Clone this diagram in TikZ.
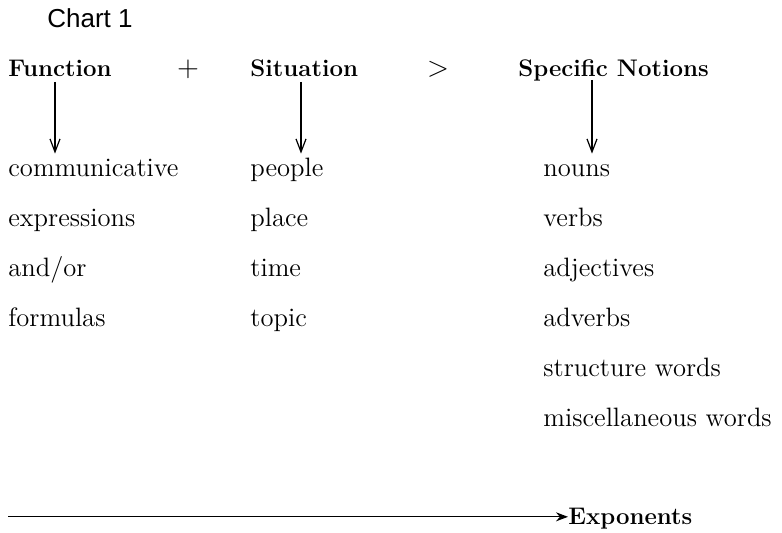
\documentclass[tikz,border=0pt]{standalone}
\usepackage{fontspec}
\newfontfamily\chartfont{Liberation Sans}
\usetikzlibrary{arrows.meta,positioning}

\begin{document}
\begin{tikzpicture}[x=0.5pt,y=-0.5pt,
    every node/.style={inner sep=0pt},
    head/.style={anchor=base west,font=\fontsize{12}{14}\selectfont\bfseries},
    item/.style={anchor=base west,text height=8pt,font=\fontsize{13.3}{15}\selectfont},
    arr/.style={-{Straight Barb[length=6.5pt,width=5pt]},line width=0.6pt,shorten >=3.5pt}]
  \useasboundingbox (0,0) rectangle (782,533);
  \node[anchor=base west,font=\chartfont\fontsize{13}{15}\selectfont] (chart) at (47,28) {Chart 1};

  % heads of the three columns
  \node[head] (fn) at (8,77) {Function};
  \node[anchor=base,font=\fontsize{13.3}{15}\selectfont] (plus) at (188,77) {$+$};
  \node[head] (sit) at (250,77) {Situation};
  \node[anchor=base,font=\fontsize{13.3}{15}\selectfont] (gt) at (438,77) {$>$};
  \node[head] (spec) at (518,77) {Specific Notions};

  % column entries
  \foreach \t [count=\i] in {communicative,expressions,and/or,formulas}
    \node[item] (c\i) at (8,{127+50*\i}) {\t};
  \foreach \t [count=\i] in {people,place,time,topic}
    \node[item] (s\i) at (250,{127+50*\i}) {\t};
  \foreach \t [count=\i] in {nouns,verbs,adjectives,adverbs,structure words,miscellaneous words}
    \node[item] (n\i) at (543,{127+50*\i}) {\t};

  \coordinate (fa) at ([xshift=23.5pt,yshift=-2.5pt]fn.base west);
  \coordinate (sa) at ([xshift=25.5pt,yshift=-2.5pt]sit.base west);
  \coordinate (na) at ([xshift=37pt,yshift=-1.5pt]spec.base west);
  \draw[arr] (fa) -- (fa |- c1.north);
  \draw[arr] (sa) -- (sa |- s1.north);
  \draw[arr] (na) -- (na |- n1.north);

  % exponents line
  \node[head,text depth=0pt] (expo) at (568,525) {Exponents};
  \coordinate (lstart) at ([xshift=-280pt]expo.west);
  \draw[-{Stealth[length=6pt,width=4.5pt]},line width=0.6pt] (lstart) -- (expo.west);
\end{tikzpicture}
\end{document}
